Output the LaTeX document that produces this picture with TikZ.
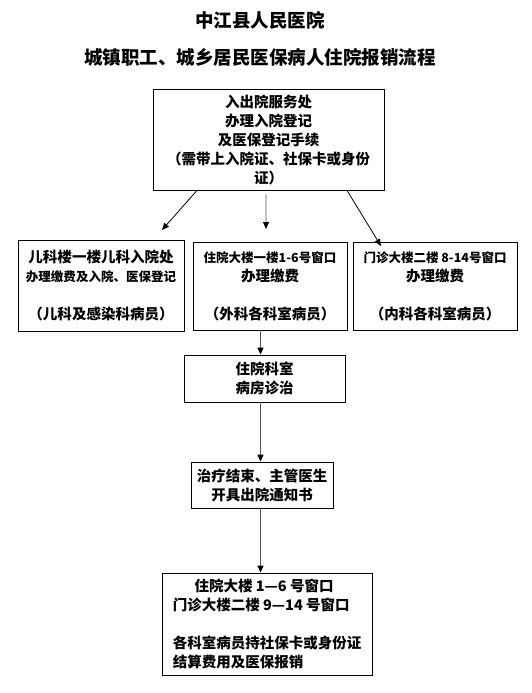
\documentclass[tikz,border=0pt]{standalone}
\usepackage{fontspec}
\usepackage{tikz}
\usetikzlibrary{arrows.meta}
\newfontfamily\cjk{Noto Sans CJK SC}
\newcommand{\bigcn}{\fontsize{18.5bp}{22bp}\selectfont}
\newcommand{\boxcn}{\fontsize{14.5bp}{19bp}\selectfont}
\newcommand{\smallcn}{\fontsize{12.5bp}{19bp}\selectfont}
\definecolor{arrowgray}{RGB}{85,85,85}

\begin{document}
\begin{tikzpicture}[x=1bp, y=-1bp, font=\cjk\bfseries,
  flowbox/.style={draw, line width=0.9bp, inner sep=0pt, align=center,
    font=\cjk\bfseries\boxcn},
  arr/.style={-{Triangle[length=7bp,width=6bp,color=black]}, line width=0.8bp}]

\useasboundingbox (0,0) rectangle (532,693);

% title lines
\path
(260,20) node (title1) {\bigcn 中江县人民医院}
(260,57) node (title2) {\bigcn 城镇职工、城乡居民医保病人住院报销流程};

% registration desk
\node[flowbox, minimum width=231bp, minimum height=101bp] (regist) at (268.5,139.5)
 {入出院服务处\\ 办理入院登记\\ 及医保登记手续\\ （需带上入院证、社保卡或身份\\ 证）};

% three payment windows
\node[flowbox, minimum width=166bp, minimum height=91bp] (child) at (101,285.5)
 {儿科楼一楼儿科入院处\\ {\smallcn 办理缴费及入院、医保登记}\\ ~\\ （儿科及感染科病员）};
\node[flowbox, minimum width=154bp, minimum height=88bp] (surgery) at (270,286)
 {{\smallcn 住院大楼一楼1-6号窗口}\\ 办理缴费\\ ~\\ （外科各科室病员）};
\node[flowbox, minimum width=164bp, minimum height=88bp] (internal) at (435,286)
 {{\smallcn 门诊大楼二楼 8-14号窗口}\\ 办理缴费\\ ~\\ （内科各科室病员）};

% ward, discharge, settlement
\node[flowbox, minimum width=161bp, minimum height=47bp] (ward) at (264.5,378.5)
 {住院科室\\ 病房诊治};
\node[flowbox, minimum width=142bp, minimum height=46bp] (discharge) at (262,485)
 {治疗结束、主管医生\\ 开具出院通知书};
\node[flowbox, minimum width=210bp, minimum height=102bp, align=left] (settle) at (267,624)
 {\hspace*{1.5em}住院大楼 1—6 号窗口\\ 门诊大楼二楼 9—14 号窗口\\ ~\\
  各科室病员持社保卡或身份证\\ 结算费用及医保报销};

% arrows out of the registration desk
\coordinate (toChild) at (162,230);
\coordinate (toSurgery) at (266,229);
\coordinate (toInternal) at (381,246);
\draw[arr] ([xshift=-71.5bp]regist.south) -- (toChild);
\draw[arr, arrowgray] ([xshift=-2.5bp, yshift=-4bp]regist.south) -- (toSurgery);
\draw[arr] ([xshift=78.5bp]regist.south) -- (toInternal);

% arrows down the column
\coordinate (col) at (260.5,0);
\draw[arr, arrowgray, line width=1.3bp] (col |- surgery.south) -- (col |- ward.north);
\draw[arr, arrowgray, line width=1.3bp] (col |- ward.south) -- (col |- discharge.north);
\draw[arr, arrowgray, line width=1.3bp] (col |- discharge.south) -- (col |- settle.north);

\end{tikzpicture}
\end{document}
